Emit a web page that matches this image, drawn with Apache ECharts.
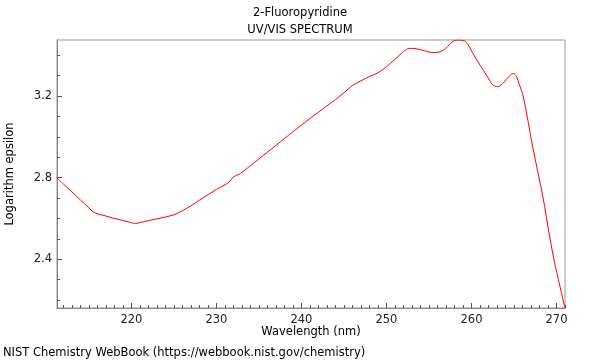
<!DOCTYPE html>
<html>
<head>
<meta charset="utf-8">
<script src="https://cdn.jsdelivr.net/npm/echarts@6/dist/echarts.min.js"></script>
<style>
  html, body { margin: 0; padding: 0; background: #fff; }
  #chart { width: 600px; height: 360px; }
</style>
</head>
<body>
<div id="chart"></div>
<script>
// wavelength (nm) and log epsilon
const wavelength = [211.2, 212, 213, 214, 215, 215.5, 216, 217, 218, 219, 220, 220.5,
  221, 222, 223, 224, 225, 226, 227, 228, 229, 230, 231, 231.5, 232, 232.7, 233, 234,
  235, 236, 237, 238, 239, 240, 241, 242, 243, 244, 245, 246, 247, 248, 249, 250, 251,
  252, 252.7, 253.5, 254.5, 255.5, 256.3, 257, 257.7, 258.4, 259.2, 259.6, 260.3, 261,
  261.8, 262.5, 263.1, 263.8, 264.5, 264.9, 265.3, 265.6, 266.1, 267.2, 268.4, 269.2,
  269.8, 271.0];
const logEps = [2.80, 2.769, 2.730, 2.691, 2.652, 2.632, 2.623, 2.612, 2.600, 2.590, 2.579, 2.575,
  2.580, 2.589, 2.598, 2.607, 2.618, 2.638, 2.662, 2.690, 2.716, 2.742, 2.765, 2.779, 2.804, 2.817, 2.826, 2.859,
  2.892, 2.925, 2.958, 2.992, 3.025, 3.058, 3.090, 3.121, 3.152, 3.183, 3.216, 3.252, 3.275, 3.296, 3.314, 3.344, 3.380,
  3.418, 3.434, 3.432, 3.422, 3.413, 3.417, 3.435, 3.465, 3.475, 3.470, 3.452, 3.40, 3.352,
  3.30, 3.255, 3.246, 3.268, 3.300, 3.311, 3.295, 3.26, 3.197, 2.951, 2.706, 2.51,
  2.379, 2.161];

const xMajor = [220, 230, 240, 250, 260, 270];
const xMinor = [212, 213, 214, 215, 216, 217, 218, 219, 221, 222, 223, 224, 225, 226, 227, 228, 229,
  231, 232, 233, 234, 235, 236, 237, 238, 239, 241, 242, 243, 244, 245, 246, 247, 248, 249,
  251, 252, 253, 254, 255, 256, 257, 258, 259, 261, 262, 263, 264, 265, 266, 267, 268, 269, 271];
const yMajor = [2.4, 2.8, 3.2];
const yMinor = [2.2, 2.3, 2.5, 2.6, 2.7, 2.9, 3.0, 3.1, 3.3, 3.4];

const xMin = 211.25, xMax = 271.0;
const yMin = 2.161, yMax = 3.475;

const font = 'DejaVu Sans';
const fs = 11.5;
const chart = echarts.init(document.getElementById('chart'));

function txt(text, opts) {
  return Object.assign({ text: text, padding: 0,
    textStyle: { fontFamily: font, fontSize: fs, fontWeight: 'normal', color: '#000' } }, opts);
}

function xAxisDef(values, len, labels) {
  return {
    type: 'value', min: xMin, max: xMax, position: 'bottom',
    axisLine: { show: true, lineStyle: { color: '#888', width: 1 } },
    axisTick: { show: true, inside: true, length: len, customValues: values,
      lineStyle: { color: '#555' } },
    axisLabel: { show: labels, customValues: values, color: '#222', fontFamily: font,
      fontSize: fs, margin: 6 },
    splitLine: { show: false }
  };
}

function yAxisDef(values, len, labels) {
  return {
    type: 'value', min: yMin, max: yMax, position: 'left',
    axisLine: { show: true, lineStyle: { color: '#888', width: 1 } },
    axisTick: { show: true, inside: true, length: len, customValues: values,
      lineStyle: { color: '#555' } },
    axisLabel: { show: labels, customValues: values, color: '#222', fontFamily: font,
      fontSize: fs, margin: 5, formatter: v => v.toFixed(1) },
    splitLine: { show: false }
  };
}

const option = {
  animation: false,
  backgroundColor: '#fff',
  title: [
    txt('2-Fluoropyridine', { left: 'center', top: 7 }),
    txt('UV/VIS SPECTRUM', { left: 'center', top: 24 }),
    txt('Wavelength (nm)', { left: 311, top: 326, textAlign: 'center' }),
    txt('NIST Chemistry WebBook (https://webbook.nist.gov/chemistry)', { left: 3, top: 347 })
  ],
  graphic: [{
    type: 'text', rotation: Math.PI / 2, x: 4, y: 174,
    style: { text: 'Logarithm epsilon', font: fs + 'px "DejaVu Sans"', fill: '#000',
      textAlign: 'center', textVerticalAlign: 'top' }
  }],
  grid: { left: 57, top: 40, right: 35, bottom: 52, show: true,
    borderColor: '#999', borderWidth: 1, backgroundColor: '#fff' },
  xAxis: [xAxisDef(xMajor, 5, true), xAxisDef(xMinor, 3, false)],
  yAxis: [yAxisDef(yMajor, 5, true), yAxisDef(yMinor, 3, false)],
  series: [{
    type: 'line',
    data: wavelength.map((w, i) => [w, logEps[i]]),
    smooth: 0.3,
    showSymbol: false,
    clip: true,
    lineStyle: { color: '#ff0000', width: 1 }
  }]
};

chart.setOption(option);
</script>
</body>
</html>
